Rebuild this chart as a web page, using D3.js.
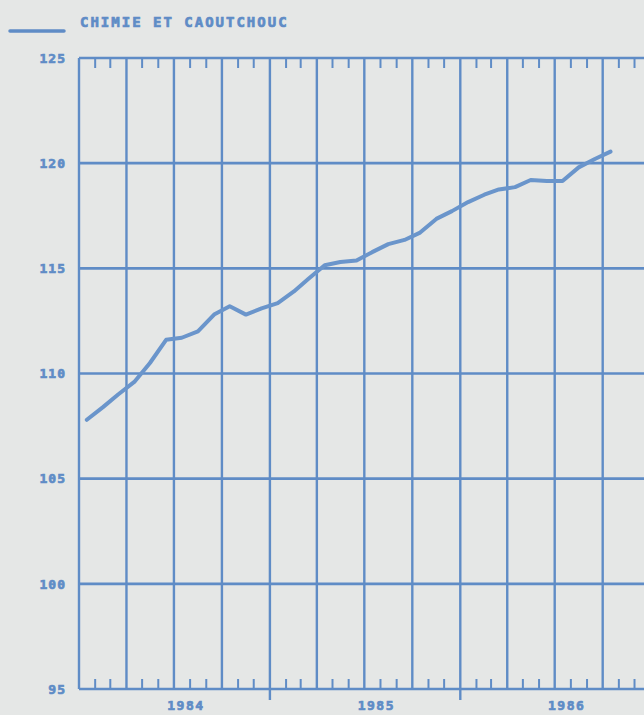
<!DOCTYPE html>
<html>
<head>
<meta charset="utf-8">
<script src="https://cdn.jsdelivr.net/npm/d3@7"></script>
<style>
  body { margin: 0; background: #e5e7e6; }
  text { font-family: "DejaVu Sans Mono", monospace; font-weight: bold; fill: #5f8cc6; stroke: #5f8cc6; stroke-width: 0.7px; }
</style>
</head>
<body>
<div id="chart"></div>
<script>
// monthly index, jan 1984 .. oct 1986
var startYear = 1984;
var values = [
	107.8, 108.4, 109.0, 109.6, 110.5, 111.6, 111.7, 112.0, 112.8, 113.2, 112.8, 113.1,
	113.35, 113.9, 114.5, 115.15, 115.3, 115.37, 115.77, 116.15, 116.35, 116.7, 117.35, 117.72,
	118.15, 118.5, 118.75, 118.86, 119.2, 119.15, 119.15, 119.8, 120.2, 120.55
];
var yTicks = [95, 100, 105, 110, 115, 120, 125];
var years = [1984, 1985, 1986];
var seriesName = "CHIMIE ET CAOUTCHOUC";

var W = 644, H = 715;
var blue = "#5f8cc6";

var svg = d3.select("#chart")
	.append("svg")
	.attr("width", W)
	.attr("height", H);

var x = d3.scaleTime()
	.domain([new Date(1984, 0, 1), new Date(1987, 0, 1)])
	.range([79, 79 + 36 * 15.88]);

var y = d3.scaleLinear()
	.domain([95, 125])
	.range([689, 58]);

var months = d3.timeMonth.range(new Date(1984, 0, 1), new Date(1987, 0, 1));
var quarters = months.filter(function(d) { return d.getMonth() % 3 == 0; });
var minor = months.filter(function(d) { return d.getMonth() % 3 != 0; });

// horizontal grid
svg.selectAll(".hgrid")
	.data(yTicks)
	.enter()
	.append("line")
	.attr("x1", x.range()[0])
	.attr("x2", W)
	.attr("y1", function(d) { return y(d); })
	.attr("y2", function(d) { return y(d); })
	.attr("stroke", blue)
	.attr("stroke-width", 2.6);

// vertical grid, year starts go below the axis
svg.selectAll(".vgrid")
	.data(quarters)
	.enter()
	.append("line")
	.attr("x1", function(d) { return x(d); })
	.attr("x2", function(d) { return x(d); })
	.attr("y1", y(125))
	.attr("y2", function(d) { return (d.getMonth() == 0 && d.getFullYear() > 1984) ? y(95) + 11 : y(95); })
	.attr("stroke", blue)
	.attr("stroke-width", 2.4);

// month ticks top and bottom
svg.selectAll(".ttop")
	.data(minor)
	.enter()
	.append("line")
	.attr("x1", function(d) { return x(d); })
	.attr("x2", function(d) { return x(d); })
	.attr("y1", y(125))
	.attr("y2", y(125) + 10)
	.attr("stroke", blue)
	.attr("stroke-width", 2);

svg.selectAll(".tbot")
	.data(minor)
	.enter()
	.append("line")
	.attr("x1", function(d) { return x(d); })
	.attr("x2", function(d) { return x(d); })
	.attr("y1", y(95))
	.attr("y2", y(95) - 10)
	.attr("stroke", blue)
	.attr("stroke-width", 2);

// y labels
svg.selectAll(".ylab")
	.data(yTicks)
	.enter()
	.append("text")
	.attr("x", 66)
	.attr("y", function(d) { return y(d); })
	.attr("dy", "0.36em")
	.attr("text-anchor", "end")
	.attr("font-size", 13)
	.attr("letter-spacing", 1)
	.text(function(d) { return d; });

// year labels
svg.selectAll(".xlab")
	.data(years)
	.enter()
	.append("text")
	.attr("x", function(d) { return x(new Date(d, 6, 1)) + 12; })
	.attr("y", 710)
	.attr("text-anchor", "middle")
	.attr("font-size", 13)
	.attr("letter-spacing", 1.5)
	.text(function(d) { return d; });

// the series
var line = d3.line()
	.x(function(d, i) { return x(new Date(startYear, i, 16)); })
	.y(function(d) { return y(d); });

svg.append("path")
	.datum(values)
	.attr("d", line)
	.attr("fill", "none")
	.attr("stroke", "#6a95cb")
	.attr("stroke-width", 4)
	.attr("stroke-linejoin", "round")
	.attr("stroke-linecap", "round");

// legend
svg.append("line")
	.attr("x1", 10).attr("x2", 64)
	.attr("y1", 31).attr("y2", 31)
	.attr("stroke", blue)
	.attr("stroke-width", 3.5)
	.attr("stroke-linecap", "round");

svg.append("text")
	.attr("x", 80)
	.attr("y", 27)
	.attr("font-size", 14)
	.attr("letter-spacing", 2)
	.text(seriesName);
</script>
</body>
</html>
